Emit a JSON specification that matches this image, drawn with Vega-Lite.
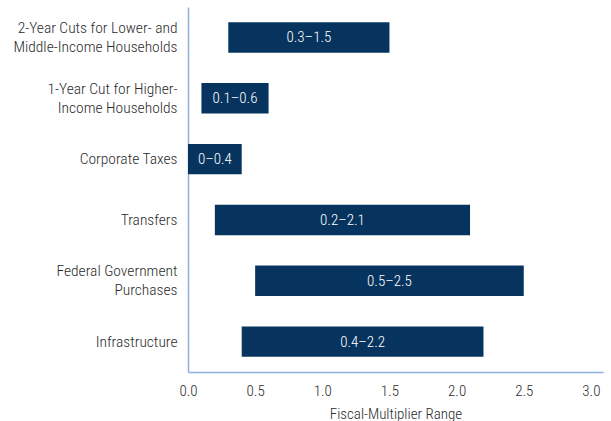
{
  "$schema": "https://vega.github.io/schema/vega-lite/v6.json",
  "width": 415,
  "height": 365,
  "autosize": {"type": "none"},
  "padding": {"left": 188, "top": 7, "right": 8, "bottom": 49},
  "background": "white",
  "config": {
    "view": {"stroke": null},
    "font": "Roboto Condensed, DejaVu Sans Condensed, sans-serif",
    "axis": {"labelFont": "Roboto Condensed, DejaVu Sans Condensed, sans-serif", "titleFont": "Roboto Condensed, DejaVu Sans Condensed, sans-serif"}
  },
  "data": {
    "values": [
      {"program": "2-Year Cuts for Lower- and|Middle-Income Households", "order": 1, "low": 0.3, "high": 1.5, "label": "0.3–1.5"},
      {"program": "1-Year Cut for Higher-|Income Households", "order": 2, "low": 0.1, "high": 0.6, "label": "0.1–0.6"},
      {"program": "Corporate Taxes", "order": 3, "low": 0, "high": 0.4, "label": "0–0.4"},
      {"program": "Transfers", "order": 4, "low": 0.2, "high": 2.1, "label": "0.2–2.1"},
      {"program": "Federal Government|Purchases", "order": 5, "low": 0.5, "high": 2.5, "label": "0.5–2.5"},
      {"program": "Infrastructure", "order": 6, "low": 0.4, "high": 2.2, "label": "0.4–2.2"}
    ]
  },
  "encoding": {
    "y": {
      "field": "program",
      "type": "nominal",
      "sort": {"field": "order", "op": "min"},
      "scale": {"paddingInner": 0.5, "paddingOuter": 0.25},
      "axis": {
        "title": null,
        "labelExpr": "split(datum.label, '|')",
        "labelFontSize": 15.5,
        "labelFontWeight": 300,
        "labelColor": "#2b2b2b",
        "labelLineHeight": 19,
        "labelOffset": {"condition": {"test": "indexof(datum.value, '|') >= 0", "value": -9.5}, "value": 0},
        "labelPadding": 11,
        "ticks": false,
        "domainColor": "#8eb0dc",
        "domainWidth": 1.5,
        "labelLimit": 300
      }
    }
  },
  "layer": [
    {
      "mark": {"type": "bar", "color": "#07345e"},
      "encoding": {
        "x": {
          "field": "low",
          "type": "quantitative",
          "scale": {"domain": [0, 3.09], "nice": false},
          "axis": {
            "title": "Fiscal-Multiplier Range",
            "values": [0, 0.5, 1, 1.5, 2, 2.5, 3],
            "format": ".1f",
            "grid": false,
            "ticks": false,
            "labelFlush": false,
            "labelFontSize": 15,
            "labelFontWeight": 300,
            "labelColor": "#2b2b2b",
            "labelPadding": 11,
            "titleFontSize": 15,
            "titleFontWeight": 300,
            "titleColor": "#2b2b2b",
            "titlePadding": 8,
            "domainColor": "#8eb0dc",
            "domainWidth": 1.5
          }
        },
        "x2": {"field": "high"}
      }
    },
    {
      "transform": [{"calculate": "(datum.low + datum.high) / 2", "as": "mid"}],
      "mark": {"type": "text", "color": "white", "fontSize": 15, "fontWeight": 300},
      "encoding": {
        "x": {"field": "mid", "type": "quantitative"},
        "text": {"field": "label"}
      }
    }
  ]
}
